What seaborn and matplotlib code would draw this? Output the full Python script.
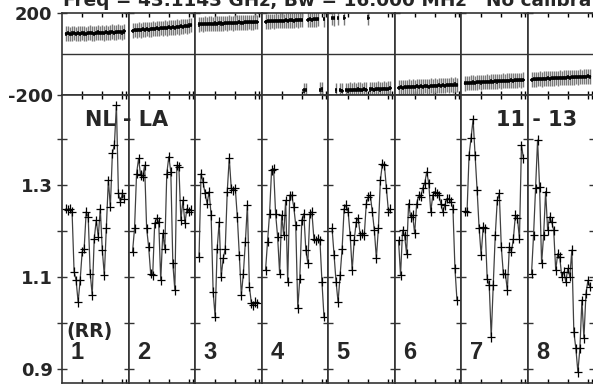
import numpy as np
import pandas as pd
import matplotlib
matplotlib.use("Agg")
import matplotlib.pyplot as plt
import seaborn as sb

# channels plotted in every IF panel
channels = list(range(2, 32))

# amplitude (RR) per IF
amp_if1 = [1.249, 1.246, 1.249, 1.242, 1.112, 1.093, 1.046, 1.093, 1.155, 1.162,
           1.242, 1.231, 1.108, 1.061, 1.184, 1.224, 1.188, 1.249, 1.159, 1.104,
           1.207, 1.311, 1.253, 1.369, 1.388, 1.474, 1.282, 1.264, 1.282, 1.271]
amp_if2 = [1.155, 1.206, 1.325, 1.358, 1.322, 1.318, 1.343, 1.206, 1.166, 1.108,
           1.104, 1.217, 1.228, 1.220, 1.093, 1.195, 1.162, 1.325, 1.362, 1.329,
           1.130, 1.072, 1.343, 1.340, 1.224, 1.267, 1.217, 1.249, 1.242, 1.246]
amp_if3 = [1.144, 1.325, 1.307, 1.282, 1.260, 1.286, 1.235, 1.068, 1.014, 1.162,
           1.220, 1.101, 1.141, 1.161, 1.286, 1.359, 1.293, 1.289, 1.293, 1.231,
           1.148, 1.061, 1.108, 1.177, 1.257, 1.079, 1.043, 1.039, 1.046, 1.043]
amp_if4 = [1.115, 1.177, 1.238, 1.333, 1.336, 1.238, 1.188, 1.108, 1.235, 1.191,
           1.267, 1.090, 1.278, 1.278, 1.253, 1.213, 1.032, 1.097, 1.224, 1.238,
           1.159, 1.130, 1.238, 1.242, 1.184, 1.180, 1.184, 1.180, 1.090, 1.014]
amp_if5 = [1.207, 1.149, 1.090, 1.046, 1.104, 1.161, 1.249, 1.257, 1.242, 1.191,
           1.115, 1.180, 1.220, 1.228, 1.191, 1.195, 1.191, 1.260, 1.275, 1.278,
           1.242, 1.202, 1.141, 1.206, 1.311, 1.347, 1.343, 1.293, 1.242, 1.249]
amp_if6 = [1.180, 1.104, 1.202, 1.191, 1.151, 1.260, 1.231, 1.235, 1.195, 1.260,
           1.278, 1.275, 1.293, 1.304, 1.329, 1.304, 1.242, 1.278, 1.286, 1.282,
           1.278, 1.260, 1.242, 1.257, 1.271, 1.271, 1.264, 1.249, 1.119, 1.050]
amp_if7 = [1.243, 1.242, 1.365, 1.403, 1.443, 1.365, 1.289, 1.206, 1.148, 1.209,
           1.206, 1.097, 1.083, 0.970, 1.083, 1.191, 1.267, 1.282, 1.166, 1.108,
           1.108, 1.072, 1.166, 1.155, 1.184, 1.235, 1.228, 1.184, 1.387, 1.358]
amp_if8 = [1.108, 1.191, 1.293, 1.398, 1.296, 1.130, 1.191, 1.286, 1.202, 1.231,
           1.220, 1.202, 1.115, 1.151, 1.144, 1.101, 1.112, 1.090, 1.119, 1.101,
           1.159, 0.981, 0.945, 0.894, 0.945, 1.050, 0.967, 1.064, 1.093, 1.079]

# phase (degrees) per IF
ph_if1 = [99, 101, 97, 100, 102, 98, 101, 99, 103, 100, 98, 102, 104, 101, 99,
          103, 105, 102, 104, 101, 106, 103, 105, 108, 104, 106, 109, 107, 105, 110]
ph_if2 = [114, 117, 115, 119, 116, 120, 118, 122, 119, 121, 124, 122, 125, 123, 127,
          125, 128, 126, 130, 128, 131, 129, 133, 131, 135, 133, 137, 135, 139, 141]
ph_if3 = [144, 146, 145, 147, 146, 148, 147, 146, 149, 148, 150, 149, 148, 151, 150,
          152, 151, 150, 153, 152, 154, 153, 152, 155, 154, 156, 155, 154, 157, 156]
ph_if4 = [158, 160, 159, 161, 160, 162, 161, 163, 162, 161, 164, 163, 165, 164, 163,
          166, 165, 167, 166, -178, -176, 167, 169, 168, 170, 169, 171, -175, -173, 170]
ph_if5 = [177, 175, -178, 176, -177, -179, 178, -176, -178, -175, -177, -174, -176, -173, -175,
          -177, -172, -174, 178, -173, -171, -174, -172, -170, -173, -171, -169, -172, -170, -168]
ph_if6 = [-164, -162, -165, -161, -163, -160, -162, -159, -161, -158, -160, -157, -159, -156, -158,
          -160, -155, -157, -154, -156, -153, -155, -152, -154, -151, -153, -150, -152, -149, -151]
ph_if7 = [-143, -141, -142, -140, -139, -141, -138, -137, -139, -136, -137, -135, -136, -134, -135,
          -133, -134, -132, -133, -131, -132, -130, -131, -129, -130, -128, -129, -127, -128, -126]
ph_if8 = [-125, -123, -124, -122, -121, -123, -120, -121, -119, -120, -118, -119, -117, -118, -116,
          -117, -115, -116, -114, -115, -113, -114, -112, -113, -111, -112, -110, -111, -109, -110]

amps = [amp_if1, amp_if2, amp_if3, amp_if4, amp_if5, amp_if6, amp_if7, amp_if8]
phases = [ph_if1, ph_if2, ph_if3, ph_if4, ph_if5, ph_if6, ph_if7, ph_if8]
if_labels = ["1", "2", "3", "4", "5", "6", "7", "8"]

amp_ticks = [0.9, 1.0, 1.1, 1.2, 1.3, 1.4]
amp_ticklabels = ["0.9", "", "1.1", "", "1.3", ""]
phase_ticks = [-200, 200]
phase_ticklabels = ["-200", "200"]

sb.set_style('white')
plt.rcParams['font.family'] = ['DejaVu Sans']
plt.rcParams['font.weight'] = 'bold'

W, H = 593, 385
fig = plt.figure(figsize=(W / 100, H / 100), dpi=100)
gs = fig.add_gridspec(2, 8, left=62 / W, right=594 / W, top=1 - 13 / H, bottom=1 - 383 / H,
                      height_ratios=[82, 288], wspace=0, hspace=0)

for i in range(8):
    df = pd.DataFrame({"chan": channels, "amp": amps[i], "phase": phases[i]})
    # phases wrapped to the other side of +-180 are not joined by the line
    df["wrapped"] = np.sign(df["phase"]) != np.sign(df["phase"].median())
    df["seg"] = df["wrapped"].cumsum()

    ax_p = fig.add_subplot(gs[0, i])
    ax_a = fig.add_subplot(gs[1, i])

    # phase panel
    ax_p.axhline(0, color='#333333', lw=1)
    ax_p.errorbar(df["chan"], df["phase"], yerr=36, fmt='none', ecolor='#7a7a7a', elinewidth=1.0)
    sb.lineplot(data=df[~df["wrapped"]], x="chan", y="phase", units="seg", estimator=None,
                sort=False, color='black', lw=1.8, ax=ax_p)
    ax_p.errorbar(df["chan"], df["phase"], xerr=0.7, yerr=10, fmt='none', ecolor='black', elinewidth=1.1)
    ax_p.set_ylim(-200, 200)
    ax_p.set_yticks(phase_ticks)

    # amplitude panel
    sb.lineplot(data=df, x="chan", y="amp", estimator=None, sort=False,
                color='#404040', lw=0.9, ax=ax_a)
    ax_a.errorbar(df["chan"], df["amp"], xerr=2.0, yerr=0.01, fmt='none',
                  ecolor='black', elinewidth=0.9)
    ax_a.set_ylim(0.87, 1.496)
    ax_a.set_yticks(amp_ticks)
    ax_a.text(0.23, 0.106, if_labels[i], transform=ax_a.transAxes, ha='center', va='center',
              fontsize=17, fontweight='bold', family='Liberation Sans')

    for ax in (ax_p, ax_a):
        ax.set_xlim(0, 33)
        ax.set_xticks([10, 20, 30, 32])
        ax.set_xlabel("")
        ax.set_ylabel("")
        ax.tick_params(axis='x', direction='in', length=3, width=1, top=True, bottom=True,
                       labelbottom=False, color='black')
        ax.tick_params(axis='y', direction='inout', length=7, width=1, left=True,
                       right=(i == 7), pad=3.3, labelsize=13, color='#333333')
        for s in ax.spines.values():
            s.set_color('#333333')
            s.set_linewidth(1.2)
        if i == 0:
            ax.set_yticklabels(amp_ticklabels if ax is ax_a else phase_ticklabels, fontweight='bold')
        else:
            ax.set_yticklabels([])

# the plot title sits partly above the top edge, as in the original
fig.text(63 / W, 1 - 6 / H, "Freq = 43.1143 GHz, Bw = 16.000 MHz   No calibration applied",
         ha='left', va='baseline', fontsize=13.3, fontweight='bold')
fig.text(127 / W, 1 - 120 / H, "NL - LA", ha='center', va='center', fontsize=15, fontweight='bold')
fig.text(537 / W, 1 - 120 / H, "11 - 13", ha='center', va='center', fontsize=15, fontweight='bold')
fig.text(89 / W, 1 - 331 / H, "(RR)", ha='center', va='center', fontsize=13.5, fontweight='bold')

plt.savefig("out.png", dpi=100)
